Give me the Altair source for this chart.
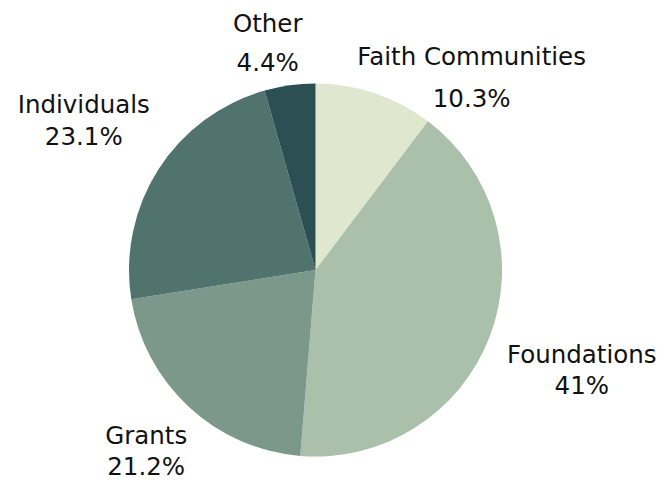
import altair as alt
import pandas as pd

categories = ["Faith Communities", "Foundations", "Grants", "Individuals", "Other"]
values = [10.3, 41.0, 21.2, 23.1, 4.4]
pct_labels = ["10.3%", "41%", "21.2%", "23.1%", "4.4%"]
colors = ["#dfe8cf", "#aac0aa", "#7b988a", "#50736d", "#2c4f54"]

df = pd.DataFrame({
    "cat": categories,
    "val": values,
    "pct": pct_labels,
    "order": list(range(len(categories))),
})
df["label"] = df["cat"] + "\n" + df["pct"]

CX, CY, R = 307.5, 262, 186.5
FONT = "DejaVu Sans"

base = alt.Chart(df).transform_window(
    cum="sum(val)", sort=[alt.SortField("order")], frame=[None, 0]
).transform_calculate(mid="datum.cum - datum.val/2")

pie = alt.Chart(df).mark_arc(outerRadius=R, strokeWidth=0).encode(
    theta=alt.Theta("val:Q", stack=True),
    order=alt.Order("order:Q"),
    color=alt.Color("cat:N", scale=alt.Scale(domain=categories, range=colors), legend=None),
    x=alt.value(CX),
    y=alt.value(CY),
)

# label placement: (category, radius, dx, dy, lineHeight)
placements = [
    ("Faith Communities", 230, 83, 6, 42),
    ("Foundations", 285, 0, -15.5, 31),
    ("Grants", 249, 0, -15.5, 31),
    ("Individuals", 275, 0, -16, 32),
    ("Other", 231, -16, -16.5, 39),
]

layers = [pie]
for cat, rad, dx, dy, lh in placements:
    t = base.transform_filter(alt.datum.cat == cat).mark_text(
        radius=rad, dx=dx, dy=dy, fontSize=24.5, font=FONT, color="#111111",
        align="center", baseline="middle", lineBreak="\n", lineHeight=lh,
    ).encode(
        theta=alt.Theta("mid:Q", stack=False, scale=alt.Scale(domain=[0, 100])),
        text="label:N",
        x=alt.value(CX),
        y=alt.value(CY),
    )
    layers.append(t)

chart = alt.layer(*layers).resolve_scale(theta="independent").properties(
    width=652, height=467, autosize=alt.AutoSizeParams(type="none"), padding=0
).configure_view(stroke=None)

chart.save("out.html", embed_options={"renderer": "svg", "actions": False})
